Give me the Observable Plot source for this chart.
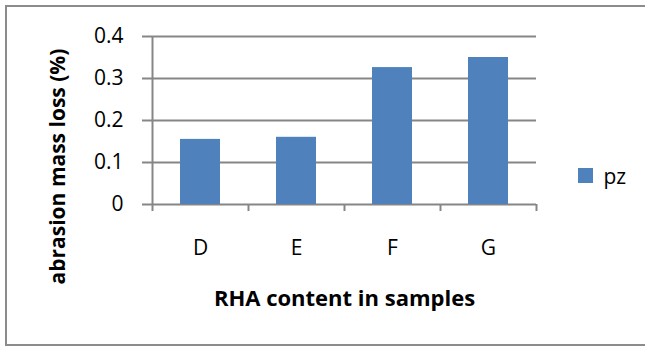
<!DOCTYPE html>
<html>
<head>
<meta charset="utf-8">
<script src="https://cdn.jsdelivr.net/npm/d3@7"></script>
<script src="https://cdn.jsdelivr.net/npm/@observablehq/plot@0.6"></script>
<style>
  html, body { margin: 0; padding: 0; background: #fff; overflow: hidden; }
  #wrap { position: relative; width: 645px; height: 348px; }
  #border {
    position: absolute; left: 5px; top: 5px; width: 660px; height: 341px;
    border: 2px solid #8c8c8c; box-sizing: border-box; pointer-events: none;
  }
  #chart { position: absolute; left: 0; top: 0; }
  #legend { position: absolute; left: 578px; top: 159px; }
</style>
</head>
<body>
<div id="wrap">
  <div id="chart"></div>
  <div id="legend"></div>
  <div id="border"></div>
</div>
<script>
// Sample groups and their abrasion mass loss (%)
const categories = ["D", "E", "F", "G"];
const values = [0.155, 0.16, 0.326, 0.35];
const seriesName = "pz";
const yTicks = [0, 0.1, 0.2, 0.3, 0.4];

const barColor = "#4f81bd";
const lineColor = "#868686";
const font = "'Open Sans', sans-serif";

const data = categories.map((c, i) => ({category: c, value: values[i]}));

const width = 645, height = 348;
const marginLeft = 152, marginRight = 109, marginTop = 36, marginBottom = 144;
const halfStep = (width - marginLeft - marginRight) / categories.length / 2;

const chart = Plot.plot({
  width, height, marginLeft, marginRight, marginTop, marginBottom,
  style: {fontFamily: font, fontSize: "21px", color: "#000", background: "transparent"},
  x: {domain: categories, paddingInner: 0.58, paddingOuter: 0.29},
  y: {domain: [0, 0.4]},
  marks: [
    // horizontal gridlines, extended left as outer tick marks
    Plot.ruleY(yTicks, {stroke: lineColor, strokeWidth: 2, insetLeft: -10}),
    Plot.barY(data, {x: "category", y: "value", fill: barColor}),
    // vertical axis line
    Plot.ruleX([categories[0]], {dx: -halfStep, y1: 0.4, y2: 0, insetBottom: -7, stroke: lineColor, strokeWidth: 2}),
    // category boundary ticks below the baseline
    Plot.ruleX(categories, {dx: halfStep, y1: 0, y2: 0, insetBottom: -7, stroke: lineColor, strokeWidth: 2}),
    Plot.axisY(yTicks, {tickSize: 0, tickPadding: 29, label: null, fontSize: 21, tickFormat: d => String(d)}),
    Plot.axisX({tickSize: 0, tickPadding: 36, label: null, fontSize: 21}),
    Plot.text(["RHA content in samples"], {
      frameAnchor: "bottom", dy: 94, fontWeight: "bold", fontSize: 22,
      textAnchor: "middle", lineAnchor: "middle", fill: "#000"
    }),
    Plot.text(["abrasion mass loss (%)"], {
      frameAnchor: "left", dx: -94, dy: 46, rotate: -90, fontWeight: "bold", fontSize: 21,
      textAnchor: "middle", lineAnchor: "middle", fill: "#000"
    })
  ]
});
document.getElementById("chart").appendChild(chart);

const legend = Plot.legend({
  color: {type: "ordinal", domain: [seriesName], range: [barColor]},
  swatchSize: 15,
  style: {fontFamily: font, fontSize: "21px", color: "#000"}
});
document.getElementById("legend").appendChild(legend);
</script>
</body>
</html>
